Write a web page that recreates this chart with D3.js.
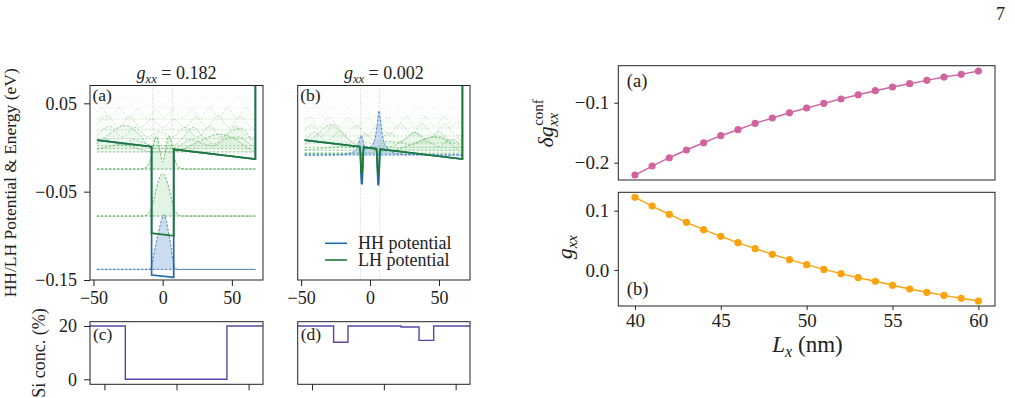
<!DOCTYPE html>
<html>
<head>
<meta charset="utf-8">
<script src="https://cdn.jsdelivr.net/npm/d3@7"></script>
<style>
body { margin: 0; background: #fff; }
text { font-family: "Liberation Serif", "DejaVu Serif", serif; fill: #222; }
</style>
</head>
<body>
<svg id="fig" width="1015" height="398"></svg>
<script>
// ---------- data ----------
var potTicks = [-0.15, -0.05, 0.05];
var posTicks = [-50, 0, 50];
var siTicks = [0, 20];
var lxTicks = [40, 45, 50, 55, 60];
var dgTicks = [-0.2, -0.1];
var gTicks = [0.0, 0.1];
var wellGuides = [-7, 7];

// potentials (x in nm, energy in eV)
var potXA = [-47.5, -8, -8, 8, 8, 67, 67];
var lhPotA = [0.0084, 0.0009, -0.097, -0.100, -0.0021, -0.0131, 0.09];
var hhPotA = [0.0084, 0.0009, -0.1445, -0.147, -0.0021, -0.0131, 0.09];

var potXB = [-47.5, -7.4, -7.0, -6.6, -6.2, -5.8, -5.4, -5.0, -4.6, 4.6, 5.0, 5.4, 5.8, 6.2, 6.6, 7.0, 7.4, 67, 67];
var lhPotB = [0.0084, 0.0009, -0.006, -0.022, -0.029, -0.029, -0.022, -0.006, 0.0003, -0.0014, -0.007, -0.023, -0.030, -0.030, -0.023, -0.007, -0.0019, -0.0131, 0.09];
var hhPotB = [0.0084, 0.0009, -0.008, -0.030, -0.041, -0.041, -0.030, -0.008, 0.0003, -0.0014, -0.009, -0.031, -0.042, -0.042, -0.031, -0.009, -0.0019, -0.0131, 0.09];

// HH ground states: level and |psi|^2 height above level
var hhLevelA = -0.138;
var hhWaveA = [[-47.5,0],[-10,0],[-8.5,0.002],[-7,0.012],[-5,0.028],[-3,0.042],[-1,0.055],[1,0.062],[2.5,0.056],[4,0.044],[6,0.026],[7.5,0.01],[9,0.002],[11,0],[67,0]];
var hhLevelB = -0.0085;
var hhWaveB = [[-47.5,0],[-25,0.0003],[-18,0.001],[-13,0.003],[-10,0.006],[-8.5,0.012],[-6.5,0.0215],[-5.5,0.019],[-4.5,0.012],[-3.5,0.0085],[-2,0.008],[0,0.009],[2,0.012],[3.5,0.018],[5,0.032],[6.5,0.05],[7.5,0.04],[8.5,0.027],[10,0.015],[12,0.009],[15,0.004],[20,0.0015],[30,0.0003],[67,0]];

// LH states, panel (a): two bound states, then the continuum
var lhBoundA = 2;
var lhLevelsA = [-0.0776, -0.0244, -0.005, -0.001, 0.002, 0.010, 0.020, 0.032, 0.045, 0.057];
var lhWavesA = [
  [[-47.5,0],[-14,0],[-11,0.002],[-9,0.006],[-7,0.015],[-5,0.028],[-3,0.040],[-1.5,0.046],[0,0.048],[1.5,0.046],[3,0.040],[5,0.028],[7,0.015],[9,0.006],[11,0.002],[14,0],[67,0]],
  [[-47.5,0],[-16,0],[-12,0.002],[-9,0.01],[-7,0.025],[-5.5,0.035],[-4.5,0.037],[-3,0.03],[-1.5,0.016],[0,0.008],[1.5,0.016],[3,0.03],[4.5,0.037],[5.5,0.035],[7,0.025],[9,0.01],[12,0.002],[16,0],[67,0]],
  [[-47.5,0.003],[-40,0.006],[-30,0.008],[-20,0.005],[-12,0.001],[-8,0],[8,0],[16,0.004],[28,0.013],[40,0.02],[52,0.015],[61,0.005],[67,0]],
  [[-47.5,0.005],[-38,0.017],[-27,0.026],[-17,0.016],[-10,0.003],[-6,0],[6,0],[12,0.003],[20,0.01],[28,0.006],[36,0.003],[46,0.011],[55,0.013],[62,0.006],[67,0]],
  [[-47.5,0.002],[-42,0.008],[-36,0.004],[-29,0.001],[-21,0.007],[-13,0.003],[-7,0],[7,0],[14,0.008],[22,0.021],[30,0.009],[37,0.002],[46,0.012],[56,0.02],[63,0.01],[67,0]],
  [[-47.5,0.004],[-38,0.014],[-29,0.002],[-20,0.013],[-11,0.002],[-2,0.008],[7,0.002],[16,0.013],[25,0.002],[34,0.014],[43,0.002],[52,0.014],[60,0.004],[67,0]],
  [[-47.5,0.006],[-40,0.016],[-32,0.003],[-24,0.015],[-16,0.003],[-8,0.012],[0,0.003],[8,0.012],[16,0.003],[24,0.015],[32,0.003],[40,0.016],[48,0.003],[56,0.015],[63,0.004],[67,0]],
  [[-47.5,0.008],[-44,0.013],[-37.5,0.002],[-31,0.013],[-24.5,0.002],[-18,0.012],[-11.5,0.002],[-5,0.011],[1.5,0.002],[8,0.011],[14.5,0.002],[21,0.012],[27.5,0.002],[34,0.013],[40.5,0.002],[47,0.013],[53.5,0.002],[60,0.013],[64,0.006],[67,0]],
  [[-47.5,0.005],[-42,0.012],[-36,0.002],[-30,0.012],[-24,0.002],[-18,0.011],[-12,0.002],[-6,0.01],[0,0.002],[6,0.01],[12,0.002],[18,0.011],[24,0.002],[30,0.012],[36,0.002],[42,0.012],[48,0.002],[54,0.012],[60,0.002],[64.5,0.008],[67,0]],
  [[-47.5,0.006],[-45,0.01],[-39.5,0.002],[-34,0.01],[-28.5,0.002],[-23,0.01],[-17.5,0.002],[-12,0.009],[-6.5,0.002],[-1,0.009],[4.5,0.002],[10,0.009],[15.5,0.002],[21,0.01],[26.5,0.002],[32,0.01],[37.5,0.002],[43,0.01],[48.5,0.002],[54,0.01],[59.5,0.002],[65,0.008],[67,0]]
];

// LH states, panel (b): continuum only
var lhBoundB = 0;
var lhLevelsB = [-0.0065, -0.003, 0.000, 0.005, 0.013, 0.022, 0.033, 0.045, 0.057];
var lhWavesB = [
  [[-47.5,0],[-20,0],[0,0.001],[15,0.003],[25,0.007],[35,0.013],[45,0.018],[52,0.017],[60,0.009],[67,0]],
  [[-47.5,0],[-35,0.002],[-22,0.004],[-12,0.003],[-7,0.006],[-3,0.002],[3,0.002],[7,0.005],[14,0.004],[22,0.009],[33,0.02],[42,0.01],[50,0.004],[58,0.012],[63,0.01],[67,0]],
  [[-47.5,0.003],[-38,0.015],[-28.5,0.026],[-19,0.014],[-11,0.004],[-6,0.002],[0,0.001],[6,0.002],[12,0.007],[20,0.006],[30,0.003],[40,0.01],[49,0.013],[58,0.007],[67,0]],
  [[-47.5,0.002],[-40,0.012],[-31,0.002],[-22,0.014],[-13,0.002],[-4,0.01],[5,0.002],[14,0.012],[23,0.002],[32,0.012],[41,0.002],[50,0.013],[59,0.002],[64,0.006],[67,0]],
  [[-47.5,0.006],[-42,0.013],[-34,0.002],[-26,0.014],[-18,0.002],[-10,0.012],[-2,0.002],[6,0.012],[14,0.002],[22,0.014],[30,0.002],[38,0.014],[46,0.002],[54,0.014],[61,0.003],[67,0]],
  [[-47.5,0.009],[-44,0.013],[-37,0.002],[-30,0.013],[-23,0.002],[-16,0.012],[-9,0.002],[-2,0.011],[5,0.002],[12,0.012],[19,0.002],[26,0.013],[33,0.002],[40,0.013],[47,0.002],[54,0.013],[60,0.003],[64.5,0.008],[67,0]],
  [[-47.5,0.004],[-41,0.012],[-34.75,0.002],[-28.5,0.012],[-22.25,0.002],[-16,0.011],[-9.75,0.002],[-3.5,0.01],[2.75,0.002],[9,0.01],[15.25,0.002],[21.5,0.011],[27.75,0.002],[34,0.012],[40.25,0.002],[46.5,0.012],[52.75,0.002],[59,0.012],[64,0.004],[67,0]],
  [[-47.5,0.007],[-43,0.011],[-37.25,0.002],[-31.5,0.011],[-25.75,0.002],[-20,0.01],[-14.25,0.002],[-8.5,0.01],[-2.75,0.002],[3,0.01],[8.75,0.002],[14.5,0.01],[20.25,0.002],[26,0.011],[31.75,0.002],[37.5,0.011],[43.25,0.002],[49,0.011],[54.75,0.002],[60.5,0.011],[65,0.004],[67,0]],
  [[-47.5,0.005],[-44,0.01],[-38.5,0.002],[-33,0.01],[-27.5,0.002],[-22,0.009],[-16.5,0.002],[-11,0.009],[-5.5,0.002],[0,0.009],[5.5,0.002],[11,0.009],[16.5,0.002],[22,0.01],[27.5,0.002],[33,0.01],[38.5,0.002],[44,0.01],[49.5,0.002],[55,0.01],[60.5,0.002],[65,0.007],[67,0]]
];

// Si concentration (%), step profiles
var siXC = [-60, -35.5, 35, 60];
var siC = [20, 0, 20, 20];
var siXD = [-60, -35, -25, 12, 24.5, 34.7, 60];
var siD = [20, 13.9, 20, 19.6, 14.6, 20, 20];

// right panels
var Lx = [40, 41, 42, 43, 44, 45, 46, 47, 48, 49, 50, 51, 52, 53, 54, 55, 56, 57, 58, 59, 60];
var dgConf = [-0.2205, -0.2055, -0.1917, -0.1788, -0.1667, -0.155, -0.145, -0.1343, -0.1255, -0.1167, -0.1088, -0.101, -0.0938, -0.0867, -0.08, -0.0738, -0.0683, -0.0627, -0.0572, -0.0527, -0.0472];
var gxx = [0.1226, 0.1079, 0.0939, 0.0804, 0.068, 0.0568, 0.046, 0.036, 0.0264, 0.0174, 0.009, 0.001, -0.0062, -0.013, -0.019, -0.0258, -0.032, -0.0376, -0.0427, -0.0477, -0.0523];

// ---------- layout ----------
var svg = d3.select('#fig');
var boxA = {l: 90, r: 263, t: 85.5, b: 280};
var boxB = {l: 297.7, r: 470, t: 85.5, b: 280};
var boxC = {l: 90, r: 263, t: 321.7, b: 384.3};
var boxD = {l: 297.7, r: 470, t: 321.7, b: 384.3};
var boxR1 = {l: 618.3, r: 995, t: 65.7, b: 180};
var boxR2 = {l: 618.3, r: 995, t: 192.3, b: 306};

var green = '#1d7a35', waveGreen = '#4ea64e', fillGreen = '#86cc86';
var blue = '#2166b0', waveBlue = '#3a74bd', fillBlue = '#9dbfe3';

function frame(box) {
    svg.append('rect')
        .attr('x', box.l).attr('y', box.t)
        .attr('width', box.r - box.l).attr('height', box.b - box.t)
        .attr('fill', 'none').attr('stroke', '#222').attr('stroke-width', 1);
}

function styleAxis(sel, fs) {
    sel.attr('font-family', '"Liberation Serif", serif');
    sel.select('.domain').remove();
    sel.selectAll('.tick line').attr('stroke', '#222').attr('stroke-width', 1);
    sel.selectAll('.tick text').attr('font-size', fs).attr('fill', '#222');
}

function clipFor(id, box) {
    svg.append('clipPath').attr('id', id)
        .append('rect').attr('x', box.l).attr('y', box.t)
        .attr('width', box.r - box.l).attr('height', box.b - box.t);
}

function potPanel(box, id, potX, lhPot, hhPot, hhLevel, hhWave, lhLevels, lhWaves, nBound, title, label) {
    var x = d3.scaleLinear().domain([-52.5, 72.5]).range([box.l, box.r]);
    var y = d3.scaleLinear().domain([-0.15, 0.0702]).range([box.b, box.t]);
    clipFor(id, box);
    var g = svg.append('g').attr('clip-path', 'url(#' + id + ')');
    var ext = d3.extent(potX);

    g.selectAll('.guide').data(wellGuides).enter().append('line')
        .attr('x1', function(d) { return x(d); }).attr('x2', function(d) { return x(d); })
        .attr('y1', box.t).attr('y2', box.b)
        .attr('stroke', '#bbb').attr('stroke-width', 0.7).attr('stroke-dasharray', '1,1.5');

    function drawState(E, pts, col, fcol, op, fop) {
        var area = d3.area()
            .x(function(d) { return x(d[0]); })
            .y0(y(E))
            .y1(function(d) { return y(E + d[1]); })
            .curve(d3.curveMonotoneX);
        var line = d3.line()
            .x(function(d) { return x(d[0]); })
            .y(function(d) { return y(E + d[1]); })
            .curve(d3.curveMonotoneX);
        g.append('path').attr('d', area(pts)).attr('fill', fcol).attr('fill-opacity', fop);
        g.append('line').attr('x1', x(ext[0])).attr('x2', x(ext[1]))
            .attr('y1', y(E)).attr('y2', y(E))
            .attr('stroke', col).attr('stroke-opacity', op)
            .attr('stroke-width', 0.9).attr('stroke-dasharray', '2.5,1.5');
        g.append('path').attr('d', line(pts)).attr('fill', 'none')
            .attr('stroke', col).attr('stroke-opacity', op)
            .attr('stroke-width', 0.9).attr('stroke-dasharray', '2.5,1.5');
    }

    // highest (faintest) first
    for (var i = lhLevels.length - 1; i >= 0; i--) {
        var op, fop;
        if (i < nBound) { op = 0.9; fop = 0.22; }
        else {
            op = Math.max(0.07, 0.7 - 0.095 * (i - nBound));
            fop = 0.16 * op;
        }
        drawState(lhLevels[i], lhWaves[i], waveGreen, fillGreen, op, fop);
    }
    drawState(hhLevel, hhWave, waveBlue, fillBlue, 0.95, 0.55);

    var pline = d3.line()
        .x(function(d) { return x(d[0]); })
        .y(function(d) { return y(d[1]); });
    g.append('path').attr('d', pline(d3.zip(potX, hhPot)))
        .attr('fill', 'none').attr('stroke', blue).attr('stroke-width', 1.6);
    g.append('path').attr('d', pline(d3.zip(potX, lhPot)))
        .attr('fill', 'none').attr('stroke', green).attr('stroke-width', 1.8);

    frame(box);

    var xa = svg.append('g').attr('transform', 'translate(0,' + box.b + ')')
        .call(d3.axisBottom(x).tickValues(posTicks).tickSize(6).tickPadding(5).tickFormat(d3.format('d')));
    styleAxis(xa, 18);

    svg.append('text').attr('x', box.l + 2.5).attr('y', box.t + 15)
        .attr('font-size', 17.5).text(label);

    var t = svg.append('text').attr('x', (box.l + box.r) / 2).attr('y', 79)
        .attr('text-anchor', 'middle').attr('font-size', 18);
    t.append('tspan').attr('font-style', 'italic').text('g');
    t.append('tspan').attr('font-style', 'italic').attr('font-size', 12.6).attr('dy', 4).text('xx');
    t.append('tspan').attr('dy', -4).text(' = ' + title);
    return {x: x, y: y};
}

var pa = potPanel(boxA, 'clipA', potXA, lhPotA, hhPotA, hhLevelA, hhWaveA, lhLevelsA, lhWavesA, lhBoundA, '0.182', '(a)');
var pb = potPanel(boxB, 'clipB', potXB, lhPotB, hhPotB, hhLevelB, hhWaveB, lhLevelsB, lhWavesB, lhBoundB, '0.002', '(b)');

var ya = svg.append('g').attr('transform', 'translate(' + boxA.l + ',0)')
    .call(d3.axisLeft(pa.y).tickValues(potTicks).tickSize(6).tickPadding(7).tickFormat(d3.format('.2f')));
styleAxis(ya, 18);

svg.append('text').attr('transform', 'translate(16,' + ((boxA.t + boxA.b) / 2) + ') rotate(-90)')
    .attr('text-anchor', 'middle').attr('font-size', 17.5)
    .text('HH/LH Potential & Energy (eV)');

// legend
var legItems = [['HH potential', blue], ['LH potential', green]];
var leg = svg.append('g').selectAll('g').data(legItems).enter().append('g')
    .attr('transform', function(d, i) { return 'translate(325,' + (243.3 + i * 16.7) + ')'; });
leg.append('line').attr('x1', 0).attr('x2', 22).attr('stroke', function(d) { return d[1]; }).attr('stroke-width', 1.6);
leg.append('text').attr('x', 33).attr('y', 5.5).attr('font-size', 18).text(function(d) { return d[0]; });

// Si concentration panels
function siPanel(box, xs, vs, label, showY) {
    var x = d3.scaleLinear().domain([-60, 60]).range([box.l, box.r]);
    var y = d3.scaleLinear().domain([-1.88, 21.6]).range([box.b, box.t]);
    var line = d3.line()
        .x(function(d) { return x(d[0]); })
        .y(function(d) { return y(d[1]); })
        .curve(d3.curveStepAfter);
    svg.append('path').attr('d', line(d3.zip(xs, vs)))
        .attr('fill', 'none').attr('stroke', '#5b45a8').attr('stroke-width', 1.4);
    frame(box);
    var xa = svg.append('g').attr('transform', 'translate(0,' + box.b + ')')
        .call(d3.axisBottom(x).tickValues(posTicks).tickSize(6).tickFormat(''));
    styleAxis(xa, 18);
    if (showY) {
        var ya = svg.append('g').attr('transform', 'translate(' + box.l + ',0)')
            .call(d3.axisLeft(y).tickValues(siTicks).tickSize(6).tickPadding(7).tickFormat(d3.format('d')));
        styleAxis(ya, 18);
    }
    svg.append('text').attr('x', box.l + 3).attr('y', box.t + 18.5)
        .attr('font-size', 17.5).text(label);
}
siPanel(boxC, siXC, siC, '(c)', true);
siPanel(boxD, siXD, siD, '(d)', false);

svg.append('text').attr('transform', 'translate(45,' + ((boxC.t + boxC.b) / 2) + ') rotate(-90)')
    .attr('text-anchor', 'middle').attr('font-size', 18)
    .text('Si conc. (%)');

// right panels
var xL = d3.scaleLinear().domain([39.03, 60.97]).range([boxR1.l, boxR1.r]);
var yR1 = d3.scaleLinear().domain([-0.2288, -0.0383]).range([boxR1.b, boxR1.t]);
var yR2 = d3.scaleLinear().domain([-0.0607, 0.131]).range([boxR2.b, boxR2.t]);

function series(vals, yS, col) {
    var data = d3.zip(Lx, vals);
    var line = d3.line()
        .x(function(d) { return xL(d[0]); })
        .y(function(d) { return yS(d[1]); });
    svg.append('path').attr('d', line(data)).attr('fill', 'none')
        .attr('stroke', col).attr('stroke-width', 1.4);
    svg.append('g').selectAll('circle').data(data).enter().append('circle')
        .attr('cx', function(d) { return xL(d[0]); })
        .attr('cy', function(d) { return yS(d[1]); })
        .attr('r', 3.6).attr('fill', col);
}
series(dgConf, yR1, '#d1649f');
series(gxx, yR2, '#f9a30f');
frame(boxR1);
frame(boxR2);

var r1y = svg.append('g').attr('transform', 'translate(' + boxR1.l + ',0)')
    .call(d3.axisLeft(yR1).tickValues(dgTicks).tickSize(4).tickPadding(5).tickFormat(d3.format('.1f')));
styleAxis(r1y, 19);
var r2y = svg.append('g').attr('transform', 'translate(' + boxR2.l + ',0)')
    .call(d3.axisLeft(yR2).tickValues(gTicks).tickSize(4).tickPadding(5).tickFormat(d3.format('.1f')));
styleAxis(r2y, 19);
var r2x = svg.append('g').attr('transform', 'translate(0,' + boxR2.b + ')')
    .call(d3.axisBottom(xL).tickValues(lxTicks).tickSize(4).tickPadding(4).tickFormat(d3.format('d')));
styleAxis(r2x, 19);

svg.append('text').attr('x', boxR1.l + 8.5).attr('y', boxR1.t + 21)
    .attr('font-size', 18.5).text('(a)');
svg.append('text').attr('x', boxR2.l + 8.5).attr('y', boxR2.b - 11)
    .attr('font-size', 18.5).text('(b)');

// y label top right: delta g_xx^conf
var t1 = svg.append('text').attr('transform', 'translate(553,123.3) rotate(-90)')
    .attr('text-anchor', 'middle').attr('font-size', 22);
t1.append('tspan').attr('font-style', 'italic').text('δg');
t1.append('tspan').attr('font-style', 'italic').attr('font-size', 15).attr('dy', 5).text('xx');
t1.append('tspan').attr('font-size', 15).attr('dx', -13).attr('dy', -15).text('conf');

var t2 = svg.append('text').attr('transform', 'translate(572,' + ((boxR2.t + boxR2.b) / 2 - 2) + ') rotate(-90)')
    .attr('text-anchor', 'middle').attr('font-size', 22);
t2.append('tspan').attr('font-style', 'italic').text('g');
t2.append('tspan').attr('font-style', 'italic').attr('font-size', 15).attr('dy', 5).text('xx');

var t3 = svg.append('text').attr('x', 807.5).attr('y', 352)
    .attr('text-anchor', 'middle').attr('font-size', 23);
t3.append('tspan').attr('font-style', 'italic').text('L');
t3.append('tspan').attr('font-style', 'italic').attr('font-size', 16).attr('dy', 5).text('x');
t3.append('tspan').attr('dy', -5).text(' (nm)');

svg.append('text').attr('x', 1005).attr('y', 20).attr('text-anchor', 'end')
    .attr('font-size', 18).text('7');
</script>
</body>
</html>
